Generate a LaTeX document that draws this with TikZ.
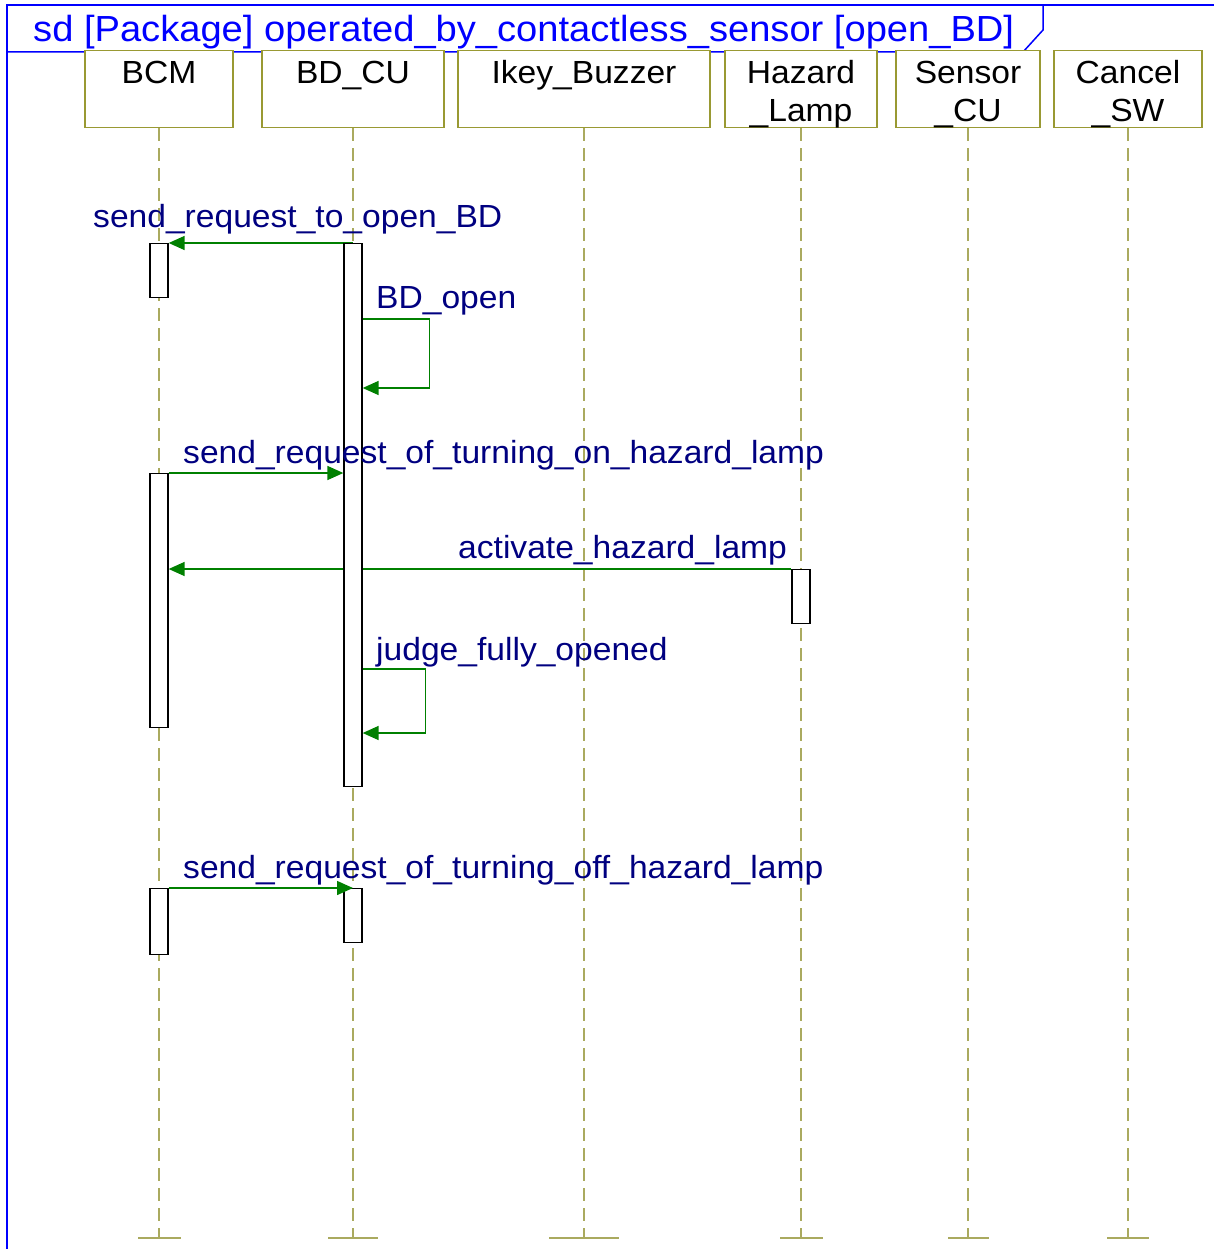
\documentclass[tikz,border=0pt]{standalone}
\usepackage{fontspec}
\setmainfont{Liberation Sans}[FakeStretch=1.05]
\usepackage{tikz}
\usetikzlibrary{arrows.meta,backgrounds}
\definecolor{frameblue}{RGB}{0,0,255}
\definecolor{lifeolive}{RGB}{153,153,51}
\definecolor{dasholive}{RGB}{170,170,95}
\definecolor{msggreen}{RGB}{0,128,0}
\definecolor{msgnavy}{RGB}{0,0,128}
\tikzset{
  head/.style = {rectangle, draw=lifeolive, line width=1.3pt, fill=white,
    minimum height=77pt, inner sep=0pt, anchor=north},
  headtext/.style = {align=center, anchor=north, inner sep=0pt,
    font=\fontsize{32}{38}\selectfont},
  lifeline/.style = {draw=dasholive, line width=1.5pt, dash pattern=on 13pt off 7pt},
  lifebar/.style = {draw=dasholive, line width=1.6pt},
  act/.style = {rectangle, draw=black, line width=1.3pt, fill=white,
    minimum width=18pt, inner sep=0pt, anchor=north},
  msg/.style = {draw=msggreen, line width=1.5pt, -{Triangle[length=16pt,width=14pt]}},
  msglabel/.style = {anchor=base west, inner sep=0pt, text=msgnavy,
    font=\fontsize{32}{38}\selectfont},
  sdframe/.style = {draw=frameblue, line width=1.5pt}
}

\begin{document}
\begin{tikzpicture}[x=1pt, y=-1pt]
\useasboundingbox (0,0) rectangle (1214,1249);
\clip (0,0) rectangle (1214,1249);

\draw[sdframe] (7,1260) |- (1220,5);
\draw[sdframe] (7,52) -- (1023,52) -- (1043,30) -- (1043,5);
\node[anchor=base west, inner sep=0pt, text=frameblue, font=\fontsize{36.3}{42}\selectfont]
  (title) at (33,42) {sd [Package] operated\_by\_contactless\_sensor [open\_BD]};

\node[head, minimum width=148pt] (bcm) at (159,50) {};
\node[head, minimum width=182pt] (bdcu) at (353,50) {};
\node[head, minimum width=252pt] (ikey) at (584,50) {};
\node[head, minimum width=152pt] (hazard) at (801,50) {};
\node[head, minimum width=144pt] (sensor) at (968,50) {};
\node[head, minimum width=148pt] (cancel) at (1128,50) {};

\node[headtext] (bcmt) at (159,60.5) {BCM};
\node[headtext] (bdcut) at (353,60.5) {BD\_CU};
\node[headtext] (ikeyt) at (584,60.5) {Ikey\_Buzzer};
\node[headtext] (hazardt) at (801,60.5) {Hazard\\\_Lamp};
\node[headtext] (sensort) at (968,60.5) {Sensor\\\_CU};
\node[headtext] (cancelt) at (1128,60.5) {Cancel\\\_SW};

\coordinate (bcmEnd) at (159,1238);
\coordinate (bdcuEnd) at (353,1238);
\coordinate (ikeyEnd) at (584,1238);
\coordinate (hazardEnd) at (801,1238);
\coordinate (sensorEnd) at (968,1238);
\coordinate (cancelEnd) at (1128,1238);

\node[act, minimum height=54pt] (bcmA) at (159,243) {};
\node[act, minimum height=543pt] (bdA) at (353,243) {};
\node[act, minimum height=254pt] (bcmB) at (159,473) {};
\node[act, minimum height=54pt] (hlA) at (801,569) {};
\node[act, minimum height=66pt] (bcmC) at (159,888) {};
\node[act, minimum height=54pt] (bdB) at (353,888) {};

\begin{scope}[on background layer]
  \draw[lifeline] (bcm.south) -- (bcmEnd);
  \draw[lifeline] (bdcu.south) -- (bdcuEnd);
  \draw[lifeline] (ikey.south) -- (ikeyEnd);
  \draw[lifeline] (hazard.south) -- (hazardEnd);
  \draw[lifeline] (sensor.south) -- (sensorEnd);
  \draw[lifeline] (cancel.south) -- (cancelEnd);
  \draw[msg] (bdA.north) -- (bcmA.north east);
  \draw[msg] (hlA.north west) -- (bcmB.east |- hlA.north);
\end{scope}

\draw[lifebar] ([xshift=-21pt]bcmEnd) -- ([xshift=22pt]bcmEnd);
\draw[lifebar] ([xshift=-25pt]bdcuEnd) -- ([xshift=25pt]bdcuEnd);
\draw[lifebar] ([xshift=-35pt]ikeyEnd) -- ([xshift=35pt]ikeyEnd);
\draw[lifebar] ([xshift=-21pt]hazardEnd) -- ([xshift=22pt]hazardEnd);
\draw[lifebar] ([xshift=-20pt]sensorEnd) -- ([xshift=21pt]sensorEnd);
\draw[lifebar] ([xshift=-21pt]cancelEnd) -- ([xshift=21pt]cancelEnd);

\coordinate (s1) at (0,319);
\coordinate (s1b) at (0,388);
\coordinate (s2) at (0,669);
\coordinate (s2b) at (0,733);

\draw[msg] (bdA.east |- s1) -- ++(67,0) |- (bdA.east |- s1b);
\draw[msg] (bcmB.north east) -- (bdA.west |- bcmB.north);
\draw[msg] (bdA.east |- s2) -- ++(63,0) |- (bdA.east |- s2b);
\draw[msg] (bcmC.north east) -- (bdB.north);

\node[msglabel] (m1) at (93,228) {send\_request\_to\_open\_BD};
\node[msglabel] (m2) at (376,308) {BD\_open};
\node[msglabel] (m3) at (183,463) {send\_request\_of\_turning\_on\_hazard\_lamp};
\node[msglabel] (m4) at (458,558) {activate\_hazard\_lamp};
\node[msglabel] (m5) at (376,660) {judge\_fully\_opened};
\node[msglabel] (m6) at (183,878) {send\_request\_of\_turning\_off\_hazard\_lamp};

\end{tikzpicture}
\end{document}
